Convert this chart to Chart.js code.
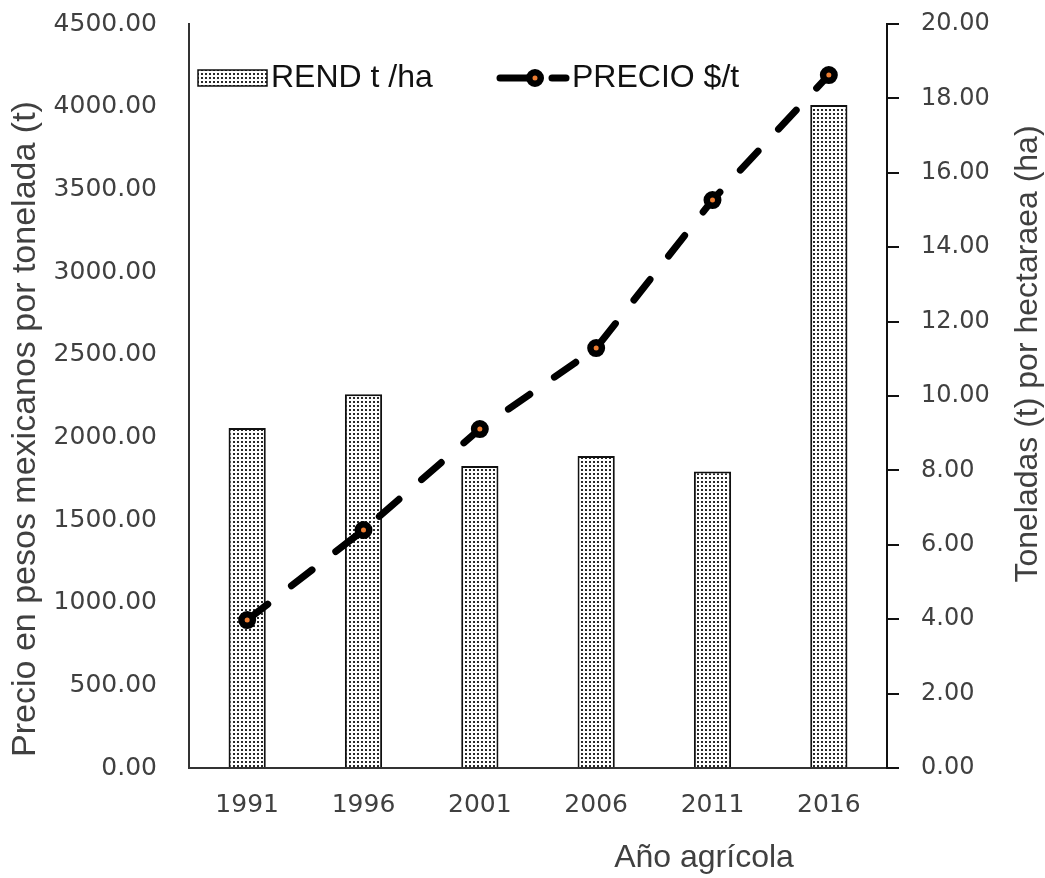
<!DOCTYPE html>
<html>
<head>
<meta charset="utf-8">
<script src="https://cdn.jsdelivr.net/npm/chart.js@4.4.1/dist/chart.umd.min.js"></script>
<style>
html,body{margin:0;padding:0;background:#fff;}
#wrap{width:1045px;height:878px;position:relative;}
</style>
</head>
<body>
<div id="wrap"><canvas id="c" width="1045" height="878"></canvas></div>
<script>
const years = ['1991','1996','2001','2006','2011','2016'];
const rendimiento = [9.14, 10.05, 8.12, 8.39, 7.97, 17.82];      // t/ha (right axis)
const precio = [895, 1439, 2050, 2540, 3435, 4191];             // $/t (left axis)
const leftTitle = 'Precio en pesos mexicanos por tonelada (t)';
const rightTitle = 'Toneladas (t) por hectaraea (ha)';
const bottomTitle = 'Año agrícola';
const legendBar = 'REND t /ha';
const legendLine = 'PRECIO $/t';

const ORANGE = '#ED7D31';
const TEXT = '#404040';

function makePattern(){
  const c = document.createElement('canvas');
  c.width = 4; c.height = 4;
  const g = c.getContext('2d');
  g.fillStyle = '#fff'; g.fillRect(0,0,4,4);
  g.fillStyle = '#2a2a2a'; g.fillRect(1,1,2,2);
  return g.createPattern(c,'repeat');
}
const dots = makePattern();

const overlay = {
  id:'overlay',
  afterDraw(chart){
    const ctx = chart.ctx;
    ctx.save();
    ctx.fillStyle = TEXT;
    ctx.textAlign = 'center';
    ctx.textBaseline = 'middle';
    ctx.font = '32px "Liberation Sans", Arial, sans-serif';
    ctx.fillText(bottomTitle, 704, 858);
    ctx.save();
    ctx.translate(1028, 354); ctx.rotate(-Math.PI/2);
    ctx.fillText(rightTitle, 0, 0);
    ctx.restore();
    ctx.font = '34px "Liberation Sans", Arial, sans-serif';
    ctx.save();
    ctx.translate(26, 429); ctx.rotate(-Math.PI/2);
    ctx.fillText(leftTitle, 0, 0);
    ctx.restore();
    // legend
    ctx.fillStyle = dots;
    ctx.fillRect(198, 70, 69, 16);
    ctx.strokeStyle = '#111'; ctx.lineWidth = 1.5;
    ctx.strokeRect(198, 70, 69, 16);
    ctx.fillStyle = '#111';
    ctx.textAlign = 'left';
    ctx.font = '32px "Liberation Sans", Arial, sans-serif';
    ctx.fillText(legendBar, 271, 78);
    ctx.fillText(legendLine, 572, 78);
    ctx.strokeStyle = '#000'; ctx.lineWidth = 7; ctx.lineCap = 'round';
    ctx.beginPath(); ctx.moveTo(500, 78); ctx.lineTo(530, 78); ctx.stroke();
    ctx.beginPath(); ctx.moveTo(552, 78); ctx.lineTo(566, 78); ctx.stroke();
    ctx.beginPath(); ctx.arc(535, 78, 5.75, 0, Math.PI*2);
    ctx.fillStyle = ORANGE; ctx.fill();
    ctx.lineWidth = 6.5; ctx.stroke();
    ctx.restore();
  }
};

function noPad(s){ s.paddingTop = 0; s.paddingBottom = 0; s.paddingLeft = 0; s.paddingRight = 0; }

new Chart(document.getElementById('c'), {
  type:'bar',
  data:{
    labels: years,
    datasets:[
      {
        type:'line', label: legendLine, data: precio, yAxisID:'y', order:0,
        borderColor:'#000', borderWidth:7, borderDash:[26,30], borderCapStyle:'round',
        pointRadius:5.75, pointBorderWidth:6.5, pointBackgroundColor:ORANGE, pointBorderColor:'#000',
        tension:0, fill:false
      },
      {
        type:'bar', label: legendBar, data: rendimiento, yAxisID:'y1', order:1,
        backgroundColor: dots, borderColor:'#111', borderWidth:2,
        barPercentage:0.32, categoryPercentage:1
      }
    ]
  },
  options:{
    responsive:false, animation:false,
    layout:{padding:{top:24,left:0,right:0,bottom:0}},
    plugins:{legend:{display:false}, tooltip:{enabled:false}},
    scales:{
      x:{
        offset:true,
        grid:{display:false, drawTicks:false},
        border:{display:true, color:'#333', width:2},
        ticks:{color:TEXT, font:{family:'"DejaVu Sans"', size:25}, padding:22},
        afterFit(s){ s.height = 110; noPad(s); }
      },
      y:{
        position:'left', min:0, max:4500,
        grid:{display:false, drawTicks:false},
        border:{display:true, color:'#333', width:2},
        ticks:{stepSize:500, color:TEXT, font:{family:'"DejaVu Sans"', size:25}, padding:32,
          callback:v=>Number(v).toFixed(2)},
        afterFit(s){ s.width = 189; noPad(s); }
      },
      y1:{
        position:'right', min:0, max:20,
        grid:{drawOnChartArea:false, drawTicks:true, tickLength:12, color:'#111', lineWidth:2},
        border:{display:true, color:'#111', width:2},
        ticks:{stepSize:2, color:TEXT, font:{family:'"DejaVu Sans"', size:24}, padding:22,
          callback:v=>Number(v).toFixed(2)},
        afterFit(s){ s.width = 158; noPad(s); }
      }
    }
  },
  plugins:[overlay]
});
</script>
</body>
</html>
